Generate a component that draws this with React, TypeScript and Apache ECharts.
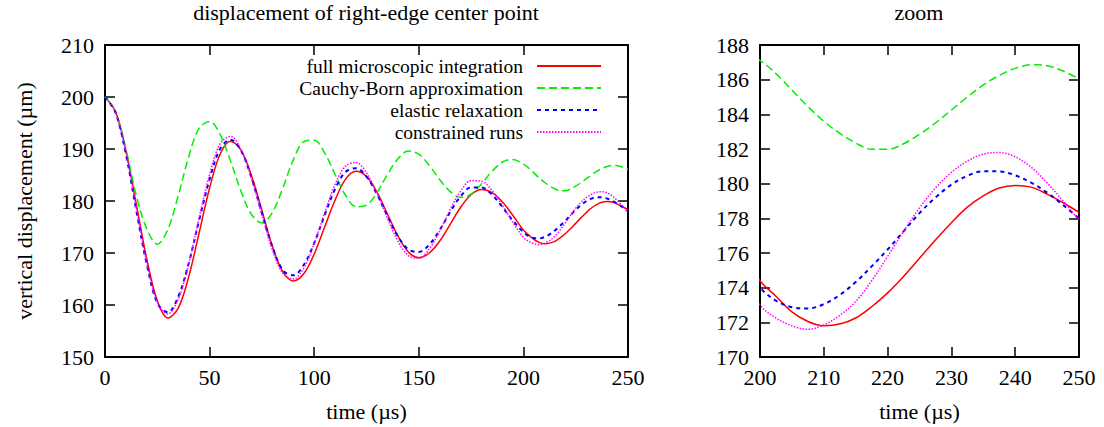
import React, { useEffect, useRef } from 'react';
import * as echarts from 'echarts';

// time samples (µs)
const times = [
  0, 5, 10, 15, 20, 25, 30, 35, 40, 45, 50, 55, 60, 65, 70, 75, 80, 85, 90, 95,
  100, 105, 110, 115, 120, 125, 130, 135, 140, 145, 150, 155, 160, 165, 170, 175, 180, 185, 190, 195,
  200, 202.5, 205, 207.5, 210, 212.5, 215, 217.5, 220, 222.5, 225, 227.5, 230, 232.5, 235, 237.5, 240, 242.5, 245, 247.5, 250,
];

// vertical displacement (µm)
const fullMicroscopic = [
  200, 197.2, 189.7, 179.3, 168.8, 160.8, 157.5, 159.4, 165.4, 173.9, 182.5, 189.0, 191.5, 189.8, 184.9, 178.2, 171.3, 166.4, 164.6, 166.0,
  169.8, 175.0, 180.2, 184.2, 185.7, 184.7, 181.7, 177.5, 173.3, 170.2, 169.1, 170.0, 172.3, 175.5, 178.8, 181.2, 182.2, 181.6, 179.8, 177.2,
  174.4, 173.5, 172.6, 172.05, 171.8, 171.9, 172.25, 172.9, 173.7, 174.65, 175.7, 176.75, 177.75, 178.65, 179.3, 179.75, 179.9, 179.8, 179.4, 178.9, 178.35,
];

const cauchyBorn = [
  200, 197.2, 190.0, 181.0, 174.6, 171.7, 174.5, 181.0, 188.5, 194.0, 195.3, 192.8, 187.7, 181.9, 177.4, 175.8, 177.8, 182.5, 187.9, 191.4,
  191.7, 189.2, 185.1, 181.1, 178.9, 179.2, 181.6, 185.1, 188.1, 189.6, 189.0, 186.85, 184.1, 181.8, 180.7, 181.3, 183.3, 185.7, 187.5, 188.0,
  187.1, 186.35, 185.4, 184.45, 183.6, 182.9, 182.35, 181.98, 181.98, 182.3, 182.85, 183.5, 184.25, 185.0, 185.7, 186.25, 186.65, 186.86, 186.8, 186.5, 186.05,
];

const elasticRelaxation = [
  200, 197.0, 189.0, 178.1, 167.8, 160.4, 158.6, 161.6, 168.0, 176.3, 184.2, 190.0, 191.8, 189.7, 184.5, 177.7, 171.2, 166.7, 165.7, 167.7,
  171.9, 177.3, 182.3, 185.6, 186.3, 184.7, 181.3, 177.1, 173.2, 170.7, 170.2, 171.6, 174.4, 177.9, 180.9, 182.6, 182.6, 181.2, 178.8, 176.2,
  174.0, 173.25, 172.87, 172.8, 173.05, 173.58, 174.32, 175.23, 176.2, 177.25, 178.3, 179.2, 179.95, 180.45, 180.72, 180.71, 180.48, 180.06, 179.48, 178.77, 178.0,
];

const constrainedRuns = [
  200, 197.1, 189.3, 178.6, 168.1, 160.6, 158.3, 161.1, 167.9, 176.8, 185.1, 191.0, 192.4, 189.9, 184.3, 177.3, 170.6, 166.1, 165.0, 167.1,
  171.8, 177.7, 183.2, 186.7, 187.4, 185.4, 181.5, 176.7, 172.3, 169.5, 169.0, 170.8, 174.2, 178.4, 181.9, 183.9, 183.8, 182.0, 179.15, 175.9,
  173.0, 172.25, 171.8, 171.6, 171.85, 172.4, 173.2, 174.4, 175.8, 177.25, 178.6, 179.75, 180.65, 181.3, 181.7, 181.8, 181.55, 180.95, 180.05, 179.0, 177.9,
];

const seriesNames = [
  'full microscopic integration',
  'Cauchy-Born approximation',
  'elastic relaxation',
  'constrained runs',
];
const seriesValues = [fullMicroscopic, cauchyBorn, elasticRelaxation, constrainedRuns];

const mainTitle = 'displacement of right-edge center point';
const zoomTitle = 'zoom';
const xAxisName = 'time (µs)';
const yAxisName = 'vertical displacement (µm)';

// axis ranges [min, max, step]
const mainXRange = [0, 250, 50];
const mainYRange = [150, 210, 10];
const zoomXRange = [200, 250, 10];
const zoomYRange = [170, 188, 2];

const FONT = 'Liberation Serif, Times New Roman, serif';
const FS = 22;
const LEGEND_FS = 19.5;

const styles = [
  { color: '#ff0000', width: 1.5, type: 'solid' as any },
  { color: '#00ee00', width: 1.5, type: [8, 4] as any },
  { color: '#0000ff', width: 2, type: [4, 4] as any },
  { color: '#ff00ff', width: 1.5, type: [1.5, 1.5] as any },
];

function buildOption() {
  const axisLine = { show: true, onZero: false, lineStyle: { color: '#000', width: 2 } };
  const axisTick = { show: true, inside: true, length: 10, lineStyle: { color: '#000', width: 1.5 } };
  const labelStyle = { color: '#000', fontFamily: FONT, fontSize: FS };

  const xAxis = (range: number[], grid: number, pos: 'bottom' | 'top', name?: string) => ({
    type: 'value',
    gridIndex: grid,
    position: pos,
    min: range[0],
    max: range[1],
    interval: range[2],
    axisLine,
    axisTick,
    splitLine: { show: false },
    axisLabel: { show: pos === 'bottom', margin: 9, ...labelStyle },
    name: name,
    nameLocation: 'middle',
    nameGap: 43,
    nameTextStyle: { ...labelStyle },
  });
  const yAxis = (range: number[], grid: number, pos: 'left' | 'right', name?: string) => ({
    type: 'value',
    gridIndex: grid,
    position: pos,
    min: range[0],
    max: range[1],
    interval: range[2],
    axisLine,
    axisTick,
    splitLine: { show: false },
    axisLabel: { show: pos === 'left', margin: 11, ...labelStyle },
    name: name,
    nameLocation: 'middle',
    nameGap: 70,
    nameTextStyle: { ...labelStyle },
  });

  const pairs = (vals: number[]) => times.map((t, i) => [t, vals[i]]);

  const series: any[] = [];
  [0, 1].forEach((g) => {
    seriesNames.forEach((name, i) => {
      series.push({
        type: 'line',
        name,
        xAxisIndex: g * 2,
        yAxisIndex: g * 2,
        data: pairs(seriesValues[i]),
        smooth: 0.35,
        symbol: 'none',
        clip: true,
        lineStyle: styles[i],
        itemStyle: { color: styles[i].color },
        emphasis: { disabled: true },
        z: 2 + i,
      });
    });
  });

  const legend = seriesNames.map((name, i) => ({
    data: [name],
    orient: 'horizontal',
    align: 'right',
    right: 502,
    top: 56 + 22 * i,
    padding: 0,
    itemWidth: 64,
    itemHeight: 14,
    selectedMode: false,
    itemStyle: { opacity: 0 },
    textStyle: {
      color: '#000',
      fontFamily: FONT,
      fontSize: LEGEND_FS,
      lineHeight: 20,
      padding: [0, 9, 0, 0],
    },
  }));

  return {
    animation: false,
    backgroundColor: '#fff',
    textStyle: { fontFamily: FONT },
    title: [
      {
        text: mainTitle,
        left: 366,
        top: 1,
        textAlign: 'center',
        padding: 0,
        textStyle: { color: '#000', fontFamily: FONT, fontSize: FS, fontWeight: 'normal' },
      },
      {
        text: zoomTitle,
        left: 919,
        top: 1,
        textAlign: 'center',
        padding: 0,
        textStyle: { color: '#000', fontFamily: FONT, fontSize: FS, fontWeight: 'normal' },
      },
    ],
    legend,
    grid: [
      { left: 105, top: 45, width: 523, height: 316 },
      { left: 760, top: 45, width: 319, height: 316 },
    ],
    xAxis: [
      xAxis(mainXRange, 0, 'bottom', xAxisName),
      xAxis(mainXRange, 0, 'top'),
      xAxis(zoomXRange, 1, 'bottom', xAxisName),
      xAxis(zoomXRange, 1, 'top'),
    ],
    yAxis: [
      yAxis(mainYRange, 0, 'left', yAxisName),
      yAxis(mainYRange, 0, 'right'),
      yAxis(zoomYRange, 1, 'left'),
      yAxis(zoomYRange, 1, 'right'),
    ],
    series,
  };
}

export default function App() {
  const ref = useRef<HTMLDivElement>(null);
  useEffect(() => {
    if (!ref.current) return;
    const chart = echarts.init(ref.current, undefined, { renderer: 'svg' });
    chart.setOption(buildOption() as any);
    return () => chart.dispose();
  }, []);
  return (
    <div
      ref={ref}
      style={{ position: 'fixed', left: 0, top: 0, width: 1104, height: 427, background: '#fff' }}
    />
  );
}
